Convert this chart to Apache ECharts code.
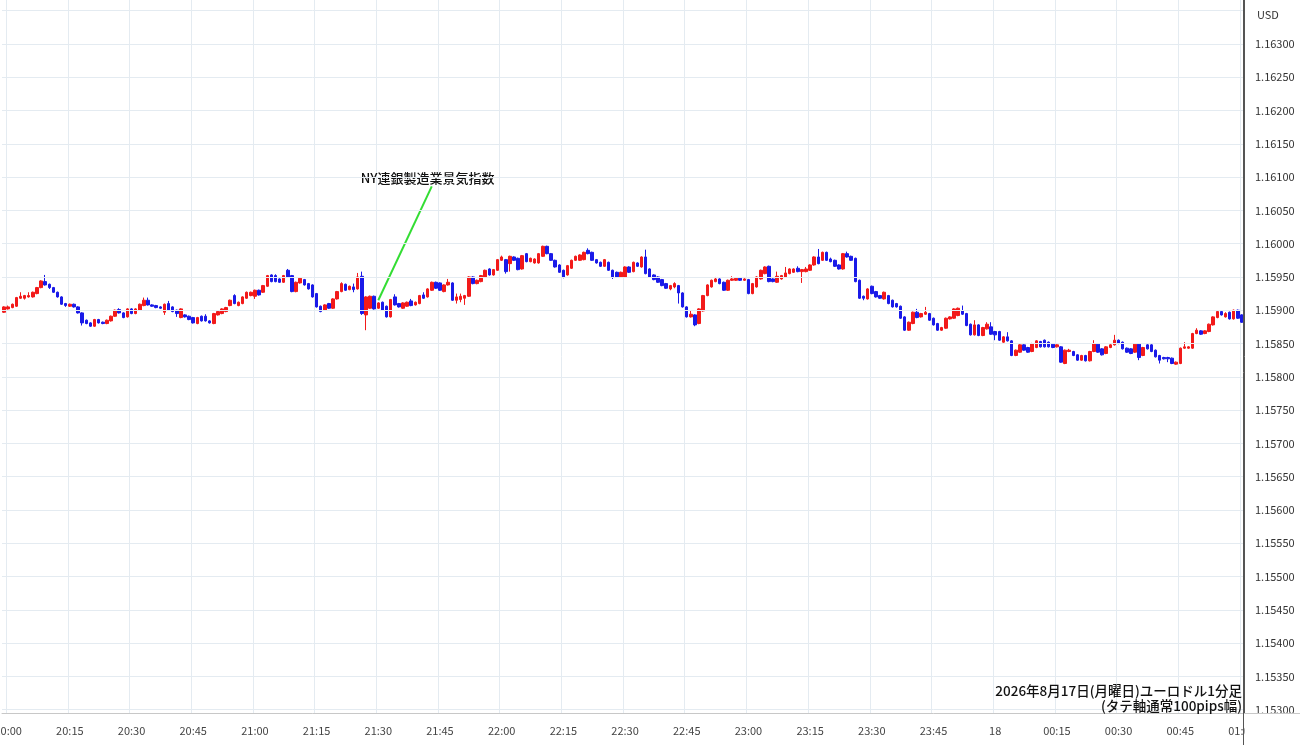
<!DOCTYPE html>
<html><head><meta charset="utf-8">
<script src="https://cdn.jsdelivr.net/npm/echarts@6/dist/echarts.min.js"></script>
<style>html,body{margin:0;padding:0;background:#fff}#c{width:1300px;height:745px}</style>
</head><body><div id="c"></div>
<script>
// EUR/USD 1-minute candles, first candle 19:59, last 01:00
const startHour = 19, startMinute = 59;
const openP = [
1.15897,1.15902,1.15904,1.15906,1.15918,1.15918,1.15920,1.15920,1.15925,1.15934,1.15943,
1.15939,1.15934,1.15927,1.15920,1.15910,1.15906,1.15909,1.15905,1.15896,1.15885,
1.15881,1.15876,1.15886,1.15882,1.15880,1.15884,1.15891,1.15901,1.15896,1.15890,
1.15902,1.15895,1.15900,1.15907,1.15915,1.15908,1.15907,1.15905,1.15897,1.15910,
1.15905,1.15900,1.15889,1.15893,1.15891,1.15889,1.15880,1.15891,1.15891,1.15884,
1.15880,1.15893,1.15895,1.15898,1.15907,1.15922,1.15907,1.15910,1.15918,1.15922,
1.15921,1.15930,1.15927,1.15936,1.15953,1.15952,1.15947,1.15942,1.15960,1.15952,
1.15928,1.15941,1.15946,1.15940,1.15938,1.15925,1.15906,1.15900,1.15910,1.15903,
1.15917,1.15928,1.15939,1.15931,1.15935,1.15932,1.15951,1.15893,1.15903,1.15921,
1.15903,1.15912,1.15906,1.15890,1.15920,1.15910,1.15903,1.15906,1.15914,1.15908,
1.15910,1.15923,1.15920,1.15930,1.15942,1.15941,1.15928,1.15938,1.15941,1.15915,
1.15916,1.15918,1.15921,1.15950,1.15940,1.15943,1.15950,1.15962,1.15953,1.15960,
1.15975,1.15976,1.15970,1.15980,1.15978,1.15962,1.15985,1.15973,1.15971,1.15971,
1.15981,1.15996,1.15985,1.15975,1.15968,1.15960,1.15953,1.15963,1.15975,1.15975,
1.15976,1.15990,1.15987,1.15976,1.15972,1.15966,1.15972,1.15960,1.15957,1.15950,
1.15950,1.15965,1.15958,1.15971,1.15965,1.15980,1.15962,1.15953,1.15950,1.15946,
1.15940,1.15932,1.15935,1.15937,1.15926,1.15905,1.15890,1.15893,1.15880,1.15899,
1.15922,1.15935,1.15943,1.15947,1.15942,1.15930,1.15945,1.15945,1.15948,1.15945,
1.15946,1.15925,1.15935,1.15947,1.15955,1.15966,1.15947,1.15942,1.15947,1.15950,
1.15955,1.15957,1.15963,1.15958,1.15958,1.15960,1.15968,1.15980,1.15975,1.15987,
1.15977,1.15975,1.15968,1.15962,1.15985,1.15981,1.15978,1.15945,1.15921,1.15917,
1.15936,1.15928,1.15922,1.15917,1.15922,1.15915,1.15910,1.15906,1.15890,1.15870,
1.15880,1.15897,1.15890,1.15894,1.15895,1.15888,1.15880,1.15870,1.15873,1.15887,
1.15888,1.15892,1.15899,1.15895,1.15879,1.15863,1.15878,1.15862,1.15872,1.15875,
1.15868,1.15868,1.15852,1.15860,1.15854,1.15832,1.15837,1.15848,1.15844,1.15838,
1.15844,1.15853,1.15855,1.15852,1.15849,1.15845,1.15845,1.15820,1.15838,1.15838,
1.15833,1.15825,1.15832,1.15824,1.15838,1.15849,1.15842,1.15835,1.15844,1.15848,
1.15855,1.15852,1.15843,1.15842,1.15837,1.15849,1.15832,1.15848,1.15848,1.15840,
1.15832,1.15829,1.15829,1.15828,1.15819,1.15820,1.15843,1.15843,1.15843,1.15865,
1.15869,1.15865,1.15868,1.15878,1.15889,1.15898,1.15890,1.15897,1.15887,1.15900,1.15893
];
const closeP = [
1.15905,1.15905,1.15909,1.15919,1.15921,1.15922,1.15922,1.15927,1.15934,1.15944,1.15938,
1.15934,1.15927,1.15920,1.15909,1.15907,1.15909,1.15905,1.15896,1.15881,1.15880,
1.15876,1.15886,1.15881,1.15880,1.15885,1.15891,1.15900,1.15896,1.15889,1.15902,
1.15895,1.15902,1.15909,1.15915,1.15908,1.15906,1.15904,1.15903,1.15909,1.15900,
1.15898,1.15895,1.15902,1.15890,1.15886,1.15881,1.15889,1.15884,1.15884,1.15881,
1.15895,1.15898,1.15902,1.15904,1.15915,1.15910,1.15912,1.15920,1.15927,1.15927,
1.15930,1.15923,1.15937,1.15952,1.15943,1.15943,1.15942,1.15952,1.15950,1.15928,
1.15942,1.15948,1.15938,1.15932,1.15920,1.15905,1.15898,1.15908,1.15903,1.15917,
1.15928,1.15940,1.15930,1.15936,1.15931,1.15950,1.15895,1.15920,1.15921,1.15902,
1.15911,1.15900,1.15890,1.15916,1.15908,1.15905,1.15911,1.15912,1.15907,1.15912,
1.15922,1.15918,1.15932,1.15942,1.15933,1.15930,1.15938,1.15942,1.15915,1.15920,
1.15921,1.15922,1.15950,1.15940,1.15945,1.15952,1.15960,1.15953,1.15961,1.15976,
1.15980,1.15958,1.15981,1.15975,1.15961,1.15982,1.15973,1.15978,1.15977,1.15985,
1.15996,1.15985,1.15975,1.15965,1.15957,1.15950,1.15967,1.15975,1.15981,1.15983,
1.15987,1.15985,1.15975,1.15971,1.15966,1.15976,1.15960,1.15950,1.15950,1.15957,
1.15965,1.15957,1.15972,1.15966,1.15980,1.15955,1.15950,1.15946,1.15942,1.15937,
1.15933,1.15937,1.15940,1.15926,1.15905,1.15890,1.15894,1.15878,1.15902,1.15922,
1.15938,1.15945,1.15947,1.15940,1.15930,1.15945,1.15947,1.15948,1.15945,1.15947,
1.15925,1.15940,1.15950,1.15960,1.15965,1.15943,1.15943,1.15951,1.15952,1.15956,
1.15962,1.15962,1.15958,1.15961,1.15962,1.15968,1.15980,1.15970,1.15987,1.15975,
1.15973,1.15966,1.15962,1.15985,1.15980,1.15975,1.15943,1.15918,1.15918,1.15932,
1.15925,1.15920,1.15918,1.15927,1.15910,1.15905,1.15905,1.15888,1.15870,1.15882,
1.15897,1.15889,1.15895,1.15897,1.15885,1.15878,1.15870,1.15874,1.15888,1.15890,
1.15902,1.15903,1.15894,1.15877,1.15863,1.15878,1.15862,1.15874,1.15879,1.15864,
1.15863,1.15855,1.15860,1.15854,1.15832,1.15840,1.15848,1.15840,1.15837,1.15850,
1.15854,1.15845,1.15845,1.15845,1.15844,1.15848,1.15822,1.15840,1.15840,1.15832,
1.15825,1.15832,1.15824,1.15838,1.15850,1.15837,1.15833,1.15845,1.15848,1.15855,
1.15850,1.15842,1.15837,1.15835,1.15849,1.15829,1.15844,1.15842,1.15838,1.15830,
1.15825,1.15827,1.15827,1.15820,1.15822,1.15843,1.15845,1.15845,1.15865,1.15870,
1.15864,1.15869,1.15879,1.15890,1.15898,1.15893,1.15895,1.15887,1.15900,1.15888,1.15882
];
const highP = [
1.15906,1.15907,1.15910,1.15920,1.15927,1.15923,1.15927,1.15928,1.15935,1.15945,1.15953,
1.15940,1.15935,1.15928,1.15921,1.15911,1.15910,1.15910,1.15906,1.15897,1.15886,
1.15882,1.15887,1.15887,1.15883,1.15886,1.15892,1.15901,1.15903,1.15897,1.15903,
1.15903,1.15903,1.15910,1.15919,1.15919,1.15909,1.15908,1.15906,1.15910,1.15914,
1.15906,1.15901,1.15903,1.15894,1.15892,1.15890,1.15890,1.15892,1.15894,1.15885,
1.15896,1.15899,1.15903,1.15905,1.15916,1.15924,1.15913,1.15921,1.15928,1.15928,
1.15931,1.15931,1.15938,1.15953,1.15954,1.15954,1.15948,1.15953,1.15962,1.15953,
1.15943,1.15949,1.15947,1.15941,1.15939,1.15926,1.15907,1.15909,1.15911,1.15918,
1.15929,1.15942,1.15940,1.15937,1.15940,1.15956,1.15958,1.15921,1.15922,1.15922,
1.15912,1.15913,1.15907,1.15917,1.15924,1.15911,1.15912,1.15913,1.15917,1.15913,
1.15923,1.15927,1.15933,1.15943,1.15943,1.15942,1.15939,1.15947,1.15942,1.15925,
1.15925,1.15923,1.15951,1.15951,1.15946,1.15953,1.15961,1.15963,1.15962,1.15977,
1.15982,1.15977,1.15982,1.15981,1.15979,1.15983,1.15986,1.15979,1.15978,1.15986,
1.15997,1.15997,1.15986,1.15976,1.15969,1.15961,1.15968,1.15976,1.15982,1.15984,
1.15988,1.15993,1.15988,1.15977,1.15973,1.15977,1.15973,1.15961,1.15958,1.15958,
1.15966,1.15966,1.15973,1.15972,1.15981,1.15991,1.15963,1.15954,1.15951,1.15947,
1.15941,1.15938,1.15942,1.15938,1.15927,1.15906,1.15899,1.15894,1.15903,1.15923,
1.15939,1.15946,1.15950,1.15948,1.15943,1.15946,1.15951,1.15949,1.15949,1.15948,
1.15947,1.15941,1.15951,1.15961,1.15966,1.15967,1.15948,1.15958,1.15953,1.15965,
1.15963,1.15963,1.15966,1.15962,1.15965,1.15969,1.15981,1.15992,1.15988,1.15988,
1.15979,1.15976,1.15969,1.15986,1.15988,1.15982,1.15979,1.15946,1.15922,1.15933,
1.15937,1.15929,1.15923,1.15928,1.15923,1.15916,1.15911,1.15907,1.15891,1.15883,
1.15898,1.15902,1.15896,1.15905,1.15896,1.15889,1.15881,1.15875,1.15889,1.15891,
1.15903,1.15904,1.15907,1.15896,1.15880,1.15885,1.15879,1.15875,1.15882,1.15882,
1.15869,1.15869,1.15861,1.15867,1.15855,1.15841,1.15849,1.15849,1.15845,1.15851,
1.15855,1.15854,1.15856,1.15853,1.15850,1.15849,1.15846,1.15841,1.15842,1.15839,
1.15834,1.15833,1.15833,1.15839,1.15855,1.15850,1.15843,1.15846,1.15849,1.15863,
1.15856,1.15853,1.15844,1.15843,1.15850,1.15850,1.15845,1.15849,1.15849,1.15841,
1.15833,1.15830,1.15830,1.15829,1.15823,1.15844,1.15852,1.15846,1.15866,1.15873,
1.15870,1.15870,1.15880,1.15891,1.15899,1.15899,1.15897,1.15898,1.15901,1.15901,1.15894
];
const lowP = [
1.15896,1.15901,1.15903,1.15905,1.15917,1.15916,1.15919,1.15919,1.15924,1.15933,1.15937,
1.15932,1.15926,1.15919,1.15908,1.15905,1.15905,1.15904,1.15895,1.15877,1.15879,
1.15875,1.15875,1.15880,1.15879,1.15879,1.15883,1.15890,1.15895,1.15888,1.15889,
1.15894,1.15894,1.15899,1.15906,1.15907,1.15905,1.15903,1.15902,1.15893,1.15899,
1.15897,1.15890,1.15888,1.15889,1.15885,1.15880,1.15879,1.15883,1.15883,1.15880,
1.15879,1.15892,1.15894,1.15897,1.15906,1.15909,1.15906,1.15909,1.15917,1.15921,
1.15917,1.15922,1.15926,1.15935,1.15942,1.15942,1.15941,1.15941,1.15949,1.15927,
1.15927,1.15940,1.15937,1.15931,1.15919,1.15904,1.15897,1.15899,1.15902,1.15902,
1.15916,1.15927,1.15929,1.15930,1.15927,1.15931,1.15893,1.15870,1.15902,1.15901,
1.15902,1.15899,1.15889,1.15889,1.15907,1.15904,1.15902,1.15905,1.15906,1.15907,
1.15909,1.15917,1.15919,1.15929,1.15932,1.15929,1.15927,1.15937,1.15914,1.15910,
1.15912,1.15908,1.15920,1.15939,1.15939,1.15942,1.15949,1.15952,1.15952,1.15959,
1.15974,1.15955,1.15958,1.15974,1.15960,1.15961,1.15972,1.15972,1.15970,1.15970,
1.15980,1.15984,1.15974,1.15964,1.15956,1.15948,1.15952,1.15962,1.15974,1.15974,
1.15975,1.15984,1.15974,1.15970,1.15965,1.15965,1.15959,1.15947,1.15949,1.15949,
1.15949,1.15956,1.15957,1.15965,1.15964,1.15954,1.15949,1.15945,1.15941,1.15936,
1.15932,1.15930,1.15933,1.15910,1.15904,1.15889,1.15889,1.15876,1.15879,1.15898,
1.15921,1.15934,1.15942,1.15939,1.15929,1.15929,1.15944,1.15944,1.15944,1.15944,
1.15924,1.15924,1.15934,1.15946,1.15954,1.15942,1.15942,1.15941,1.15946,1.15949,
1.15954,1.15956,1.15957,1.15941,1.15957,1.15959,1.15967,1.15969,1.15974,1.15974,
1.15972,1.15965,1.15961,1.15961,1.15979,1.15974,1.15942,1.15917,1.15915,1.15916,
1.15924,1.15919,1.15917,1.15916,1.15909,1.15904,1.15904,1.15887,1.15869,1.15869,
1.15879,1.15888,1.15889,1.15893,1.15884,1.15877,1.15869,1.15869,1.15872,1.15886,
1.15887,1.15891,1.15893,1.15876,1.15862,1.15862,1.15861,1.15861,1.15871,1.15863,
1.15855,1.15854,1.15851,1.15853,1.15831,1.15831,1.15836,1.15839,1.15836,1.15837,
1.15843,1.15844,1.15844,1.15844,1.15843,1.15844,1.15821,1.15819,1.15837,1.15831,
1.15824,1.15824,1.15823,1.15823,1.15837,1.15836,1.15832,1.15834,1.15843,1.15847,
1.15849,1.15841,1.15836,1.15834,1.15836,1.15825,1.15831,1.15841,1.15837,1.15829,
1.15820,1.15826,1.15822,1.15819,1.15818,1.15819,1.15842,1.15842,1.15842,1.15864,
1.15863,1.15864,1.15867,1.15877,1.15888,1.15892,1.15889,1.15886,1.15886,1.15887,1.15881
];
const priceLabels = [1.15300,1.15350,1.15400,1.15450,1.15500,1.15550,1.15600,1.15650,1.15700,1.15750,1.15800,1.15850,1.15900,1.15950,1.16000,1.16050,1.16100,1.16150,1.16200,1.16250,1.16300];
const gridPrices = priceLabels.concat([1.16350]);
const eventText = 'NY連銀製造業景気指数';
const eventStart = [91, 1.15915];
const eventEnd = [104, 1.16086];
const eventLabelAt = [103, 1.16098];
const titleLine1 = '2026年8月17日(月曜日)ユーロドル1分足';
const titleLine2 = '(タテ軸通常100pips幅)';
const currency = 'USD';

const pad = n => (n < 10 ? '0' : '') + n;
const times = [];
for (let i = 0; i < openP.length; i++) {
  const t = (startHour * 60 + startMinute + i) % 1440;
  times.push(pad(Math.floor(t / 60)) + ':' + pad(t % 60));
}
const candles = openP.map((o, i) => [o, closeP[i], lowP[i], highP[i]]);
const isMark = (i, v) => parseInt(v.slice(3), 10) % 15 === 0;
const FONT = '"Noto Sans CJK JP", "Noto Sans", sans-serif';
const UP = '#f21a1a', DOWN = '#1a1ae8';

const chart = echarts.init(document.getElementById('c'), null, {renderer: 'canvas'});
chart.setOption({
  animation: false,
  backgroundColor: '#ffffff',
  grid: {left: 2, right: 56, top: 0, bottom: 32, containLabel: false, outerBoundsMode: 'none'},
  xAxis: {
    type: 'category', data: times, boundaryGap: true, z: 1,
    axisLine: {show: true, lineStyle: {color: '#c8c8c8'}},
    axisTick: {show: false},
    axisLabel: {interval: isMark, formatter: v => (v === '00:00' ? '18' : v), color: '#444', fontSize: 11, margin: 12, fontFamily: FONT, hideOverlap: false},
    splitLine: {show: true, interval: isMark, lineStyle: {color: '#e4ebf1', width: 1}}
  },
  yAxis: {
    type: 'value', position: 'right', min: 1.15295, max: 1.16366, z: 20,
    axisLine: {show: true, lineStyle: {color: '#555'}},
    axisTick: {show: false, customValues: gridPrices},
    axisLabel: {customValues: priceLabels, formatter: v => v.toFixed(5), color: '#333', fontSize: 11, margin: 11, fontFamily: FONT},
    splitLine: {show: true, lineStyle: {color: '#e4ebf1', width: 1}}
  },
  series: [{
    type: 'candlestick', data: candles, barWidth: 3, z: 3,
    itemStyle: {color: UP, color0: DOWN, borderColor: UP, borderColor0: DOWN, borderWidth: 1},
    markLine: {
      silent: true, symbol: ['none', 'none'], animation: false,
      label: {show: false},
      lineStyle: {color: '#33dd33', width: 2, type: 'solid'},
      emphasis: {disabled: true},
      data: [[{coord: [times[eventStart[0]], eventStart[1]]}, {coord: [times[eventEnd[0]], eventEnd[1]]}]]
    },
    markPoint: {
      silent: true, symbol: 'circle', symbolSize: 0, animation: false,
      data: [{coord: [times[eventLabelAt[0]], eventLabelAt[1]], label: {show: true, position: 'inside', formatter: eventText, color: '#111', fontSize: 13, fontWeight: 500, fontFamily: FONT}}]
    }
  }],
  graphic: [
    {type: 'rect', z: 50, shape: {x: 1244.5, y: 714, width: 56, height: 31}, style: {fill: '#fff'}},
    {type: 'line', z: 51, shape: {x1: 1244, y1: 713.5, x2: 1300, y2: 713.5}, style: {stroke: '#c8c8c8', lineWidth: 1}},
    {type: 'line', z: 51, shape: {x1: 1243.5, y1: 0, x2: 1243.5, y2: 745}, style: {stroke: '#555', lineWidth: 1}},
    {type: 'text', z: 52, x: 1257, y: 9, style: {text: currency, fill: '#333', font: '11px ' + FONT}},
    {type: 'text', z: 52, x: 1242, y: 684, style: {text: titleLine1, fill: '#111', font: '500 13.5px ' + FONT, textAlign: 'right'}},
    {type: 'text', z: 52, x: 1242, y: 699, style: {text: titleLine2, fill: '#111', font: '500 13.5px ' + FONT, textAlign: 'right'}}
  ]
});
</script></body></html>
